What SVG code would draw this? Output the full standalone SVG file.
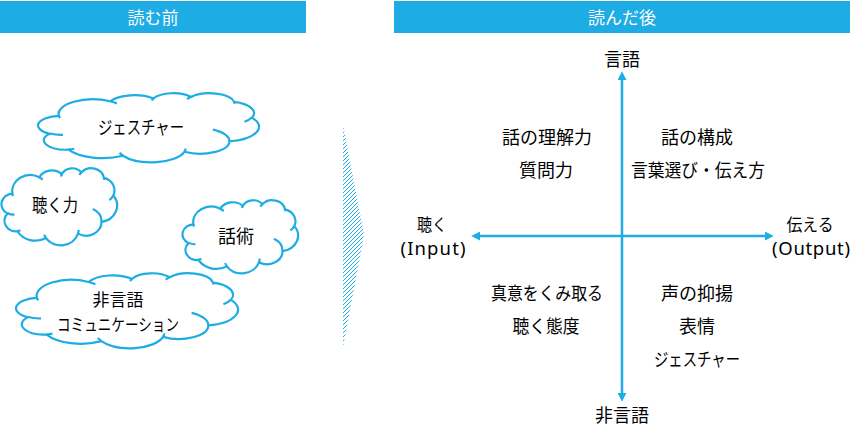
<svg xmlns="http://www.w3.org/2000/svg" xmlns:xlink="http://www.w3.org/1999/xlink" width="863" height="438" viewBox="0 0 863 438">
<style>
.bar{fill:#1DACE3}
.hd{font-family:"Noto Sans CJK JP","Noto Sans",sans-serif;font-size:17px;fill:#fff;text-anchor:middle}
.t{font-family:"Noto Sans CJK JP","Noto Sans",sans-serif;font-size:18px;fill:#000;text-anchor:middle}
.lt{font-family:"Noto Sans","Noto Sans CJK JP",sans-serif;font-size:18.5px;fill:#000;text-anchor:middle}
.cb{fill:#fff;stroke:#1DACE3;stroke-width:2.2;vector-effect:non-scaling-stroke}
.ci{fill:none;stroke:#1DACE3;stroke-width:2.2;vector-effect:non-scaling-stroke}
.ax{stroke:#1DACE3;stroke-width:2.5;fill:none}
</style>
<defs>
<path id="cloudBody" class="cb" d="M9.028,33.264 A15.632,21.273 0 0 1 32.417,12.040 A12.345,16.822 0 0 1 51.981,7.946 A10.104,13.762 0 0 1 69.056,5.742 A11.243,15.266 0 0 1 88.695,12.910 A12.345,16.836 0 0 1 96.799,35.789 A15.683,21.343 0 0 1 86.584,69.921 A13.391,18.211 0 0 1 66.101,85.222 A15.630,21.331 0 0 1 38.147,90.896 A17.870,24.405 0 0 1 13.431,82.111 A10.093,13.699 0 0 1 4.882,59.151 A10.058,13.762 0 0 1 9.028,33.264 Z"/>
<path id="cloudInner" class="ci" d="M10.863,60.595 A10.058,13.762 0 0 1 5.0,58.75 M16.037,80.785 A10.093,13.699 0 0 1 13.469,81.669 M38.144,90.486 A15.630,21.331 0 0 1 36.598,86.459 M66.729,80.442 A15.630,21.331 0 0 1 66.112,84.860 M79.002,53.134 A13.391,18.211 0 0 1 86.530,69.652 M96.755,35.542 A12.345,16.836 0 0 1 93.400,41.739 M88.713,12.560 A11.243,15.266 0 0 1 88.890,15.485 M67.310,9.148 A11.243,15.266 0 0 1 69.029,5.413 M51.252,10.926 A10.104,13.762 0 0 1 52.084,7.707 M32.407,12.019 A15.632,21.273 0 0 1 35.423,15.147 M9.553,36.549 A15.632,21.273 0 0 1 9.028,33.264"/>
<pattern id="hatch" patternUnits="userSpaceOnUse" width="4" height="4">
<path d="M-1,1 L1,-1 M0,4 L4,0 M3,5 L5,3" stroke="#1DACE3" stroke-width="1"/>
</pattern>
<marker id="ah" markerUnits="userSpaceOnUse" markerWidth="9" markerHeight="9" refX="2" refY="4" orient="auto-start-reverse" viewBox="0 0 8 8">
<path d="M0,0 L8,4 L0,8 Z" fill="#1DACE3"/>
</marker>
</defs>

<g id="header-before">
<rect class="bar" x="0" y="1" width="306" height="32"/>
<text class="hd" x="153" y="24">読む前</text>
</g>
<g id="header-after">
<rect class="bar" x="394" y="1" width="456" height="32"/>
<text class="hd" x="622" y="24">読んだ後</text>
</g>

<g id="cloud-gesture">
<use xlink:href="#cloudBody" transform="translate(39,93) scale(2.2,0.69)"/>
<use xlink:href="#cloudInner" transform="translate(39,93) scale(2.2,0.69)"/>
<text class="t" x="141" y="134" textLength="86" lengthAdjust="spacingAndGlyphs">ジェスチャー</text>
</g>
<g id="cloud-listen">
<use xlink:href="#cloudBody" transform="translate(2,168) scale(1.15,0.77)"/>
<use xlink:href="#cloudInner" transform="translate(2,168) scale(1.15,0.77)"/>
<text class="t" x="55" y="212" textLength="46" lengthAdjust="spacingAndGlyphs">聴く力</text>
</g>
<g id="cloud-speech">
<use xlink:href="#cloudBody" transform="translate(183,200) scale(1.15,0.73)"/>
<use xlink:href="#cloudInner" transform="translate(183,200) scale(1.15,0.73)"/>
<text class="t" x="236" y="243">話術</text>
</g>
<g id="cloud-nonverbal">
<use xlink:href="#cloudBody" transform="translate(17,273) scale(2.21,0.75)"/>
<use xlink:href="#cloudInner" transform="translate(17,273) scale(2.21,0.75)"/>
<text class="t" x="118" y="306" style="font-size:17px">非言語</text>
<text class="t" x="118" y="331" style="font-size:17px" textLength="122" lengthAdjust="spacingAndGlyphs">コミュニケーション</text>
</g>

<g id="chevron">
<polygon points="343,125 364,235 343,347" fill="url(#hatch)"/>
</g>

<g id="connectors">
<line class="ax" x1="622" y1="78" x2="622" y2="395" marker-start="url(#ah)" marker-end="url(#ah)"/>
<line class="ax" x1="478" y1="236" x2="767" y2="236" marker-start="url(#ah)" marker-end="url(#ah)"/>
</g>

<g id="label-verbal"><text class="t" x="622" y="66">言語</text></g>
<g id="label-nonverbal"><text class="t" x="622" y="422">非言語</text></g>
<g id="label-listen">
<text class="t" x="432" y="231" style="font-size:17px" textLength="30" lengthAdjust="spacingAndGlyphs">聴く</text>
<text class="lt" x="433" y="255" textLength="65" lengthAdjust="spacing">(Input)</text>
</g>
<g id="label-tell">
<text class="t" x="810" y="231" style="font-size:17px" textLength="47" lengthAdjust="spacingAndGlyphs">伝える</text>
<text class="lt" x="811" y="255" textLength="78" lengthAdjust="spacing">(Output)</text>
</g>
<g id="q-top-left">
<text class="t" x="547" y="144">話の理解力</text>
<text class="t" x="546" y="177">質問力</text>
</g>
<g id="q-top-right">
<text class="t" x="697" y="144">話の構成</text>
<text class="t" x="698" y="177" textLength="134" lengthAdjust="spacingAndGlyphs">言葉選び・伝え方</text>
</g>
<g id="q-bottom-left">
<text class="t" x="547" y="300" textLength="112" lengthAdjust="spacingAndGlyphs">真意をくみ取る</text>
<text class="t" x="546" y="333" textLength="67" lengthAdjust="spacingAndGlyphs">聴く態度</text>
</g>
<g id="q-bottom-right">
<text class="t" x="697" y="300">声の抑揚</text>
<text class="t" x="697" y="333">表情</text>
<text class="t" x="697" y="366" textLength="86" lengthAdjust="spacingAndGlyphs">ジェスチャー</text>
</g>
</svg>
